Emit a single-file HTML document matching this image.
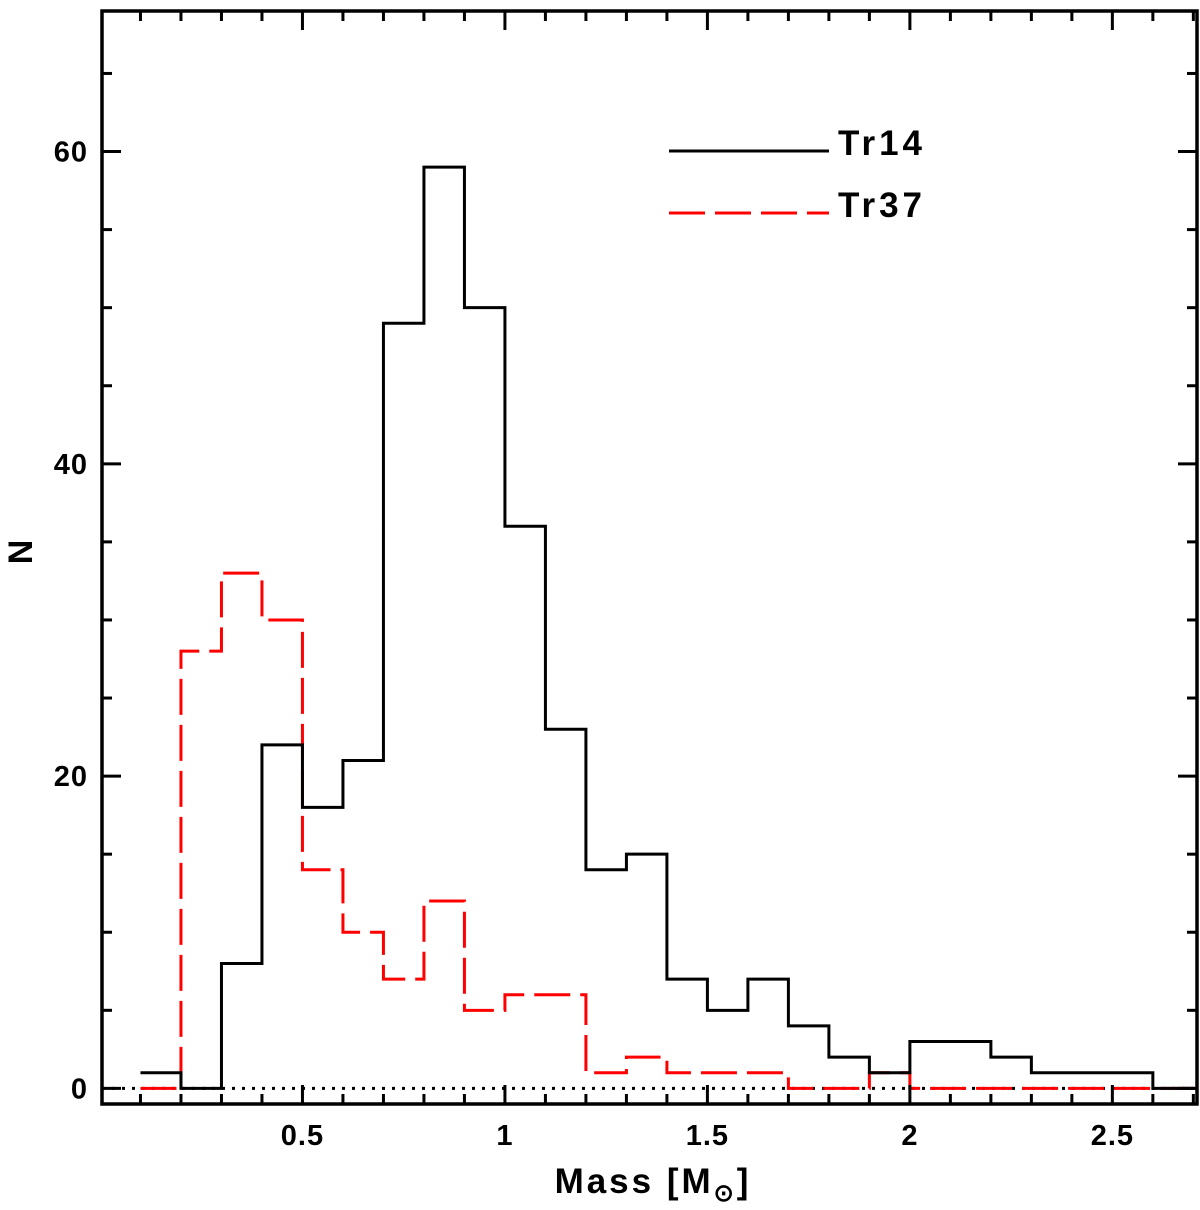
<!DOCTYPE html>
<html><head><meta charset="utf-8"><style>
html,body{margin:0;padding:0;background:#fff;}
text{font-family:"Liberation Sans",sans-serif;font-weight:bold;}
</style></head><body>
<svg id="chart" width="1200" height="1205" xmlns="http://www.w3.org/2000/svg">
<defs><clipPath id="clip"><rect x="102" y="11" width="1095" height="1093"/></clipPath></defs>
<g id="marks" clip-path="url(#clip)"></g>
<g id="axes"></g>
</svg>
<script>
const binStarts = [0.1,0.2,0.3,0.4,0.5,0.6,0.7,0.8,0.9,1.0,1.1,1.2,1.3,1.4,1.5,1.6,1.7,1.8,1.9,2.0,2.1,2.2,2.3,2.4,2.5,2.6];
const tr14 = [1,0,8,22,18,21,49,59,50,36,23,14,15,7,5,7,4,2,1,3,3,2,1,1,1,0];
const tr37 = [0,28,33,30,14,10,7,12,5,6,6,1,2,1,1,1,0,0,1,0,0,0,0,0,0,0];
const xTickVals = [0.5,1,1.5,2,2.5];
const xTickLabels = ["0.5","1","1.5","2","2.5"];
const yTickVals = [0,20,40,60];
const yTickLabels = ["0","20","40","60"];
const binWidth = 0.1;
const X0=102,X1=1197,Y0=11,Y1=1104;
const xMin=0.005,xMax=2.709,yMin=-1,yMax=69;
function xs(v){return X0+(v-xMin)/(xMax-xMin)*(X1-X0);}
function ys(v){return Y1-(v-yMin)/(yMax-yMin)*(Y1-Y0);}
const NS="http://www.w3.org/2000/svg";
const marks=document.getElementById('marks'), axes=document.getElementById('axes');
function mk(tag,attrs,parent){const e=document.createElementNS(NS,tag);for(const k in attrs)e.setAttribute(k,attrs[k]);parent.appendChild(e);return e;}
let zl=mk('line',{x1:X0,x2:X1,y1:ys(0),y2:ys(0),stroke:'#000','stroke-width':3,'stroke-dasharray':'3,7'},marks);


function stepPath(vals,extendEnd){
  let d='';
  for(let i=0;i<binStarts.length;i++){
    const a=xs(binStarts[i]),b=xs(binStarts[i]+binWidth),y=ys(vals[i]);
    d+=(i===0?'M':'L')+a+','+y+' L'+b+','+y+' ';
  }
  if(extendEnd) d+='L'+xs(xMax+0.1)+','+ys(0);
  return d;
}
let p37=mk('path',{d:stepPath(tr37,true),fill:'none',stroke:'#f00','stroke-width':3,'stroke-dasharray':'36,10'},marks);


let p14=mk('path',{d:stepPath(tr14,false),fill:'none',stroke:'#000','stroke-width':3},marks);


let fr=mk('rect',{x:X0,y:Y0,width:X1-X0,height:Y1-Y0,fill:'none',stroke:'#000','stroke-width':3.5},axes);


for(let v=0.1;v<2.71;v+=0.1){
  const vv=Math.round(v*10)/10, major=Math.abs(vv*2-Math.round(vv*2))<1e-6, L=major?19:10, x=xs(vv);
  let t=mk('line',{x1:x,x2:x,y1:Y1,y2:Y1-L,stroke:'#000','stroke-width':3},axes);
  
  
  let t2=mk('line',{x1:x,x2:x,y1:Y0,y2:Y0+L,stroke:'#000','stroke-width':3},axes);
  
  
}
xTickVals.forEach((v,i)=>{
  let t=mk('text',{x:xs(v),y:1145,'text-anchor':'middle','font-size':29,'letter-spacing':1},axes);t.textContent=xTickLabels[i];
  
  
});
for(let v=0;v<=65;v+=5){
  const major=v%20===0,L=major?19:10,y=ys(v);
  let t=mk('line',{x1:X0,x2:X0+L,y1:y,y2:y,stroke:'#000','stroke-width':3},axes);
  
  
  let t2=mk('line',{x1:X1,x2:X1-L,y1:y,y2:y,stroke:'#000','stroke-width':3},axes);
  
  
}
yTickVals.forEach((v,i)=>{
  let t=mk('text',{x:88,y:ys(v)+10,'text-anchor':'end','font-size':29,'letter-spacing':1},axes);t.textContent=yTickLabels[i];
  
  
});
let xt=mk('text',{x:653,y:1193,'text-anchor':'middle','font-size':35,'letter-spacing':3},axes);
xt.innerHTML='Mass [M<tspan font-size="24" dy="8">⊙</tspan><tspan dy="-8">]</tspan>';


let yt=mk('text',{x:0,y:0,'text-anchor':'middle','font-size':34,transform:'translate(32,552) rotate(-90)'},axes);
yt.textContent='N';


let l1=mk('line',{x1:669,x2:829,y1:151,y2:151,stroke:'#000','stroke-width':3},axes);


let lt1=mk('text',{x:838,y:155,'font-size':35,'letter-spacing':4},axes);lt1.textContent='Tr14';


let l2=mk('line',{x1:669,x2:829,y1:213,y2:213,stroke:'#f00','stroke-width':3,'stroke-dasharray':'36,10'},axes);


let lt2=mk('text',{x:838,y:217,'font-size':35,'letter-spacing':4},axes);lt2.textContent='Tr37';


</script>
</body></html>
